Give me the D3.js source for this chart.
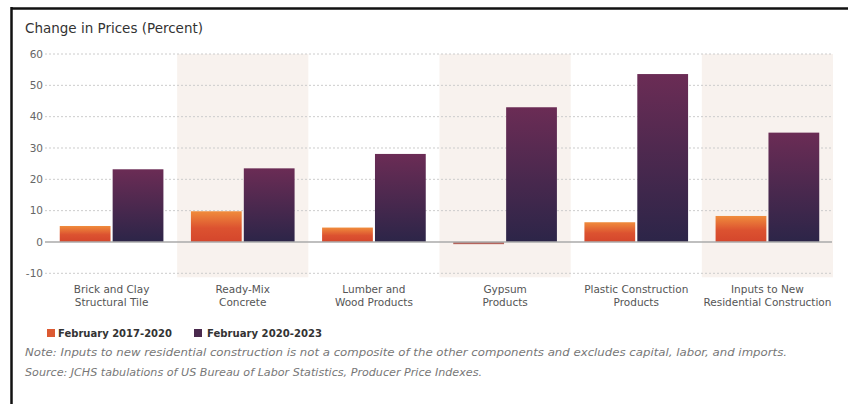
<!DOCTYPE html>
<html><head><meta charset="utf-8">
<script src="https://cdn.jsdelivr.net/npm/d3@7/dist/d3.min.js"></script>
<style>body{margin:0;background:#fff}svg{display:block}</style>
</head><body>
<svg id="c" width="848" height="404"></svg>
<script>
const categories = [
  ["Brick and Clay","Structural Tile"],
  ["Ready-Mix","Concrete"],
  ["Lumber and","Wood Products"],
  ["Gypsum","Products"],
  ["Plastic Construction","Products"],
  ["Inputs to New","Residential Construction"]
];
const series1Name = "February 2017-2020";
const series2Name = "February 2020-2023";
const series1 = [5.1, 9.8, 4.6, -0.7, 6.3, 8.3];
const series2 = [23.2, 23.5, 28.1, 43.0, 53.6, 34.9];
const yTicks = [-10, 0, 10, 20, 30, 40, 50, 60];
const title = "Change in Prices (Percent)";
const notes = [
  "Note: Inputs to new residential construction is not a composite of the other components and excludes capital, labor, and imports.",
  "Source: JCHS tabulations of US Bureau of Labor Statistics, Producer Price Indexes."
];

const svg = d3.select("#c");
const font = "'DejaVu Sans', sans-serif";
const defs = svg.append("defs");
const g1 = defs.append("linearGradient").attr("id","gO").attr("x1",0).attr("y1",0).attr("x2",0).attr("y2",1);
g1.append("stop").attr("offset","0%").attr("stop-color","#f08c3c");
g1.append("stop").attr("offset","55%").attr("stop-color","#dc5230");
g1.append("stop").attr("offset","100%").attr("stop-color","#d4462c");
const g2 = defs.append("linearGradient").attr("id","gP").attr("x1",0).attr("y1",0).attr("x2",0).attr("y2",1);
g2.append("stop").attr("offset","0%").attr("stop-color","#6b2c55");
g2.append("stop").attr("offset","100%").attr("stop-color","#2c2548");

// frame
svg.append("line").attr("x1",11).attr("x2",848).attr("y1",8.5).attr("y2",8.5).attr("stroke","#111").attr("stroke-width",2.5);
svg.append("line").attr("x1",11.5).attr("x2",11.5).attr("y1",7).attr("y2",404).attr("stroke","#111").attr("stroke-width",2.5);

const x = d3.scaleBand().domain(d3.range(categories.length)).range([46, 833]);
const y = d3.scaleLinear().domain([-10, 60]).range([273.3, 54]);
const xs = d3.scaleBand().domain([0,1]).range([0, x.bandwidth()]).paddingInner(0.04).paddingOuter(0.26);

// shaded bands
svg.append("g").selectAll("rect").data(d3.range(categories.length).filter(i => i % 2 === 1)).join("rect")
  .attr("x", i => x(i)).attr("width", x.bandwidth())
  .attr("y", y(60)).attr("height", y(-10) - y(60) + 4)
  .attr("fill", "#f8f2ee");

// gridlines
svg.append("g").selectAll("line").data(yTicks.filter(t => t !== 0)).join("line")
  .attr("x1", 45).attr("x2", 832).attr("y1", d => y(d)).attr("y2", d => y(d))
  .attr("stroke", "#cccccc").attr("stroke-width", 1).attr("stroke-dasharray", "2,2");

// tick labels
svg.append("g").selectAll("text").data(yTicks).join("text")
  .attr("x", 43).attr("y", d => y(d)).attr("dy", "0.35em").attr("text-anchor", "end")
  .attr("font-family", font).attr("font-size", 10.5).attr("fill", "#666").text(d => d);

// bars
const bars = svg.append("g");
bars.selectAll("rect.s1").data(series1).join("rect").attr("class","s1")
  .attr("x", (d,i) => x(i) + xs(0)).attr("width", xs.bandwidth())
  .attr("y", d => y(Math.max(0,d))).attr("height", d => Math.abs(y(d) - y(0)))
  .attr("fill", d => d < 0 ? "#b5645c" : "url(#gO)");
bars.selectAll("rect.s2").data(series2).join("rect").attr("class","s2")
  .attr("x", (d,i) => x(i) + xs(1)).attr("width", xs.bandwidth())
  .attr("y", d => y(Math.max(0,d))).attr("height", d => Math.abs(y(d) - y(0)))
  .attr("fill", "url(#gP)");

// zero line
svg.append("line").attr("x1",45).attr("x2",832).attr("y1",y(0)).attr("y2",y(0))
  .attr("stroke","#aaa").attr("stroke-width",1.5);

// category labels
const cl = svg.append("g").selectAll("text").data(categories).join("text")
  .attr("text-anchor","middle").attr("font-family",font).attr("font-size",10.5).attr("fill","#555");
cl.each(function(d,i){
  const t = d3.select(this);
  d.forEach((line,j) => t.append("tspan").attr("x", x(i) + x.bandwidth()/2).attr("y", 293 + j*13).text(line));
});

// title
svg.append("text").attr("x",25).attr("y",33).attr("font-family",font).attr("font-size",13.5)
  .attr("fill","#333").attr("textLength",178).attr("lengthAdjust","spacingAndGlyphs").text(title);

// legend
const leg = [[series1Name,"#dc5a32",47,58,114],[series2Name,"#4a2a4e",194,207,115]];
leg.forEach(([name,col,sx,tx,tl]) => {
  svg.append("rect").attr("x",sx).attr("y",329).attr("width",8).attr("height",8).attr("fill",col);
  svg.append("text").attr("x",tx).attr("y",337).attr("font-family",font).attr("font-size",10.5)
    .attr("font-weight","bold").attr("fill","#333").attr("textLength",tl).attr("lengthAdjust","spacingAndGlyphs").text(name);
});

// notes
const nl = [762, 457];
notes.forEach((n,i) => {
  svg.append("text").attr("x",25).attr("y",356 + i*19.5).attr("font-family",font).attr("font-size",10.5)
    .attr("font-style","italic").attr("fill","#777").attr("textLength",nl[i]).attr("lengthAdjust","spacingAndGlyphs").text(n);
});
</script>
</body></html>
